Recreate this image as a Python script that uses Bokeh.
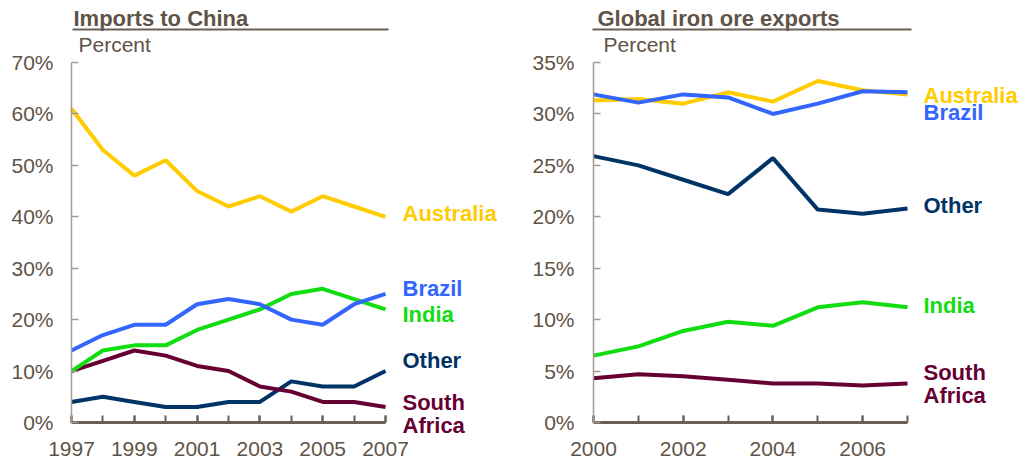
from bokeh.plotting import figure
from bokeh.layouts import row
from bokeh.models import Label, Arrow, FixedTicker, PrintfTickFormatter, Range1d
from bokeh.embed import file_html
from bokeh.resources import INLINE

# ---- data: Imports to China (percent) ----
years_china = [1997, 1998, 1999, 2000, 2001, 2002, 2003, 2004, 2005, 2006, 2007]
china_australia = [61, 53, 48, 51, 45, 42, 44, 41, 44, 42, 40]
china_brazil = [14, 17, 19, 19, 23, 24, 23, 20, 19, 23, 25]
china_india = [10, 14, 15, 15, 18, 20, 22, 25, 26, 24, 22]
china_other = [4, 5, 4, 3, 3, 4, 4, 8, 7, 7, 10]
china_south_africa = [10, 12, 14, 13, 11, 10, 7, 6, 4, 4, 3]

# ---- data: Global iron ore exports (percent) ----
years_global = [2000, 2001, 2002, 2003, 2004, 2005, 2006, 2007]
global_australia = [31.3, 31.45, 31.0, 32.1, 31.2, 33.2, 32.3, 31.9]
global_brazil = [31.9, 31.1, 31.9, 31.6, 30.0, 31.0, 32.2, 32.1]
global_other = [25.9, 25.0, 23.6, 22.2, 25.7, 20.7, 20.3, 20.8]
global_india = [6.5, 7.4, 8.9, 9.8, 9.4, 11.2, 11.7, 11.2]
global_south_africa = [4.3, 4.7, 4.5, 4.15, 3.8, 3.8, 3.6, 3.8]

left_yticks = [0, 10, 20, 30, 40, 50, 60, 70]
left_xticks = [1997, 1999, 2001, 2003, 2005, 2007]
right_yticks = [0, 5, 10, 15, 20, 25, 30, 35]
right_xticks = [2000, 2002, 2004, 2006]

C_AUS = "#FFCC00"
C_BRA = "#3366FF"
C_IND = "#11DD11"
C_OTH = "#003366"
C_SAF = "#660033"
TXT = "#5f5347"
FONT = "Liberation Sans"

H = 461
BOTTOM = 39          # pixels below the x axis
AXIS_TOP = 62        # pixel row of the top y tick
PLOT_H = H - BOTTOM  # pixel row of the x axis


def style(p, yticks, xticks, xminor, ybounds, xbounds, ystandoff):
    p.xgrid.visible = False
    p.ygrid.visible = False
    p.outline_line_color = None
    p.background_fill_color = "white"
    p.border_fill_color = "white"
    ya = p.yaxis[0]
    ya.bounds = ybounds
    ya.fixed_location = xbounds[0]
    ya.ticker = FixedTicker(ticks=yticks, minor_ticks=[])
    ya.formatter = PrintfTickFormatter(format="%d%%")
    ya.axis_line_color = "#a39a91"
    ya.axis_line_width = 1.5
    ya.major_tick_line_color = "#a39a91"
    ya.major_tick_line_width = 1.5
    ya.major_tick_in = 7
    ya.major_tick_out = 0
    ya.minor_tick_line_color = None
    ya.major_label_text_font = FONT
    ya.major_label_text_font_size = "21px"
    ya.major_label_text_color = TXT
    ya.major_label_standoff = ystandoff
    xa = p.xaxis[0]
    xa.bounds = xbounds
    xa.fixed_location = ybounds[0]
    xa.ticker = FixedTicker(ticks=xticks, minor_ticks=xminor)
    xa.axis_line_color = "#6b5e52"
    xa.axis_line_width = 3
    xa.major_tick_line_color = "#6b5e52"
    xa.major_tick_line_width = 2
    xa.major_tick_in = 7
    xa.major_tick_out = 0
    xa.minor_tick_line_color = "#6b5e52"
    xa.minor_tick_line_width = 2
    xa.minor_tick_in = 7
    xa.minor_tick_out = 0
    xa.major_label_text_font = FONT
    xa.major_label_text_font_size = "21px"
    xa.major_label_text_color = TXT
    xa.major_label_standoff = 19


def lab(p, x, y, text, color, bold=True, size="22px"):
    p.add_layout(Label(x=x, y=y, text=text, text_color=color, text_font=FONT,
                       text_font_size=size,
                       text_font_style="bold" if bold else "normal",
                       text_baseline="middle", text_align="left"))


# ---------------- left chart ----------------
W1, L1 = 510, 71
x0, x1 = years_china[0], years_china[-1]
sx1 = 314 / (x1 - x0)
sy1 = (PLOT_H - AXIS_TOP) / 70
p1 = figure(width=W1, height=H, output_backend="svg", toolbar_location=None,
            x_range=Range1d(x0 - L1 / sx1, x0 + (W1 - L1) / sx1),
            y_range=Range1d(-BOTTOM / sy1, PLOT_H / sy1),
            min_border=0)
style(p1, left_yticks, left_xticks, years_china, (0, 70), (x0, x1), 18)
for ys, c in [(china_other, C_OTH), (china_south_africa, C_SAF), (china_india, C_IND),
              (china_brazil, C_BRA), (china_australia, C_AUS)]:
    p1.line(years_china, ys, line_color=c, line_width=4)

lx = x1 + 17 / sx1
lab(p1, lx, 40.6, "Australia", C_AUS)
lab(p1, lx, 26.0, "Brazil", C_BRA)
lab(p1, lx, 21.0, "India", C_IND)
lab(p1, lx, 12.1, "Other", C_OTH)
lab(p1, lx, 3.9, "South", C_SAF)
lab(p1, lx, -0.6, "Africa", C_SAF)
lab(p1, x0 + 2 / sx1, (PLOT_H - 18) / sy1, "Imports to China", TXT, bold=True, size="22px")
lab(p1, x0 + 7 / sx1, (PLOT_H - 44) / sy1, "Percent", TXT, bold=False, size="21px")
p1.add_layout(Arrow(end=None, x_start=x0 + 1 / sx1, x_end=x1 + 3 / sx1,
                    y_start=(PLOT_H - 29) / sy1, y_end=(PLOT_H - 29) / sy1,
                    line_color="#6b5e52", line_width=2))

# ---------------- right chart ----------------
W2, L2 = 1021 - W1, 593 - W1
g0, g1 = years_global[0], years_global[-1]
sx2 = 314 / (g1 - g0)
sy2 = (PLOT_H - AXIS_TOP) / 35
p2 = figure(width=W2, height=H, output_backend="svg", toolbar_location=None,
            x_range=Range1d(g0 - L2 / sx2, g0 + (W2 - L2) / sx2),
            y_range=Range1d(-BOTTOM / sy2, PLOT_H / sy2),
            min_border=0)
style(p2, right_yticks, right_xticks, years_global, (0, 35), (g0, g1), 19)
for ys, c in [(global_south_africa, C_SAF), (global_india, C_IND), (global_other, C_OTH),
              (global_australia, C_AUS), (global_brazil, C_BRA)]:
    p2.line(years_global, ys, line_color=c, line_width=4)

rx = g1 + 16 / sx2
lab(p2, rx, 31.8, "Australia", C_AUS)
lab(p2, rx, 30.1, "Brazil", C_BRA)
lab(p2, rx, 21.1, "Other", C_OTH)
lab(p2, rx, 11.4, "India", C_IND)
lab(p2, rx, 4.9, "South", C_SAF)
lab(p2, rx, 2.6, "Africa", C_SAF)
lab(p2, g0 + 4 / sx2, (PLOT_H - 18) / sy2, "Global iron ore exports", TXT, bold=True, size="22px")
lab(p2, g0 + 10 / sx2, (PLOT_H - 44) / sy2, "Percent", TXT, bold=False, size="21px")
p2.add_layout(Arrow(end=None, x_start=g0 - 1 / sx2, x_end=g1 + 4 / sx2,
                    y_start=(PLOT_H - 29) / sy2, y_end=(PLOT_H - 29) / sy2,
                    line_color="#6b5e52", line_width=2))

layout = row(p1, p2)
open("out.html", "w").write(file_html(layout, INLINE))
